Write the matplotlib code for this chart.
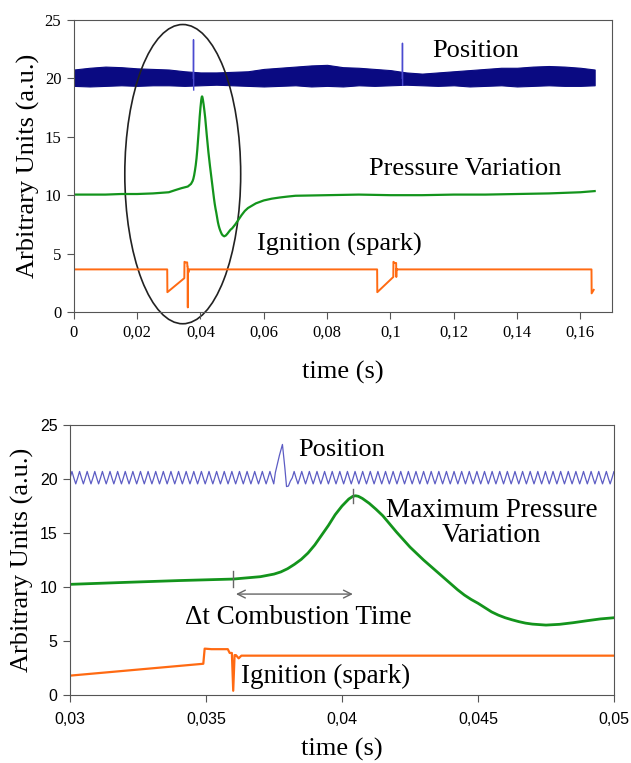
import numpy as np
import matplotlib.pyplot as plt
from matplotlib.patches import Ellipse
from matplotlib.ticker import FuncFormatter

plt.rcParams['font.family'] = ['Liberation Serif', 'DejaVu Serif']

# pressure signal (shared by both panels)
press_t = [0, 0.005, 0.01, 0.015, 0.02, 0.025, 0.03, 0.032, 0.034, 0.036, 0.037,
           0.0375, 0.03775, 0.038, 0.03825, 0.0385, 0.03875, 0.039, 0.03925, 0.0395,
           0.03975, 0.040, 0.04025, 0.0404, 0.0405, 0.0406, 0.04075, 0.041, 0.04125,
           0.0415, 0.04175, 0.042, 0.04225, 0.0425, 0.04275, 0.043, 0.04325, 0.0435,
           0.04375, 0.044, 0.04425, 0.0445, 0.04475, 0.045, 0.04525, 0.0455, 0.04575,
           0.046, 0.04625, 0.0465, 0.04675, 0.047, 0.0475, 0.048, 0.0485, 0.049, 0.0495,
           0.050, 0.051, 0.052, 0.053, 0.054, 0.055, 0.0575, 0.06, 0.0625, 0.065,
           0.0675, 0.07, 0.08, 0.09, 0.10, 0.11, 0.12, 0.13, 0.14, 0.15, 0.16, 0.1645]
press_v = [10.05, 10.05, 10.05, 10.1, 10.1, 10.15, 10.25, 10.43, 10.6, 10.74, 10.96,
           11.2, 11.4, 11.7, 12.1, 12.56, 13.15, 13.9, 14.8, 15.7,
           16.7, 17.5, 18.15, 18.4, 18.45, 18.4, 18.2, 17.75, 17.2,
           16.6, 15.85, 15.1, 14.4, 13.7, 13.1, 12.5, 11.95, 11.4,
           10.85, 10.3, 9.75, 9.26, 8.85, 8.5, 8.1, 7.7, 7.4,
           7.16, 6.97, 6.8, 6.66, 6.57, 6.48, 6.55, 6.7, 6.88, 7.05,
           7.16, 7.5, 7.9, 8.3, 8.65, 8.9, 9.3, 9.55, 9.7, 9.8,
           9.88, 9.95, 10.0, 10.05, 10.0, 10.0, 10.05, 10.05, 10.1, 10.15, 10.25, 10.35]

# ignition (spark) signal
ign_t = [0, 0.0295, 0.02955, 0.0349, 0.03495, 0.0352, 0.0358, 0.03587, 0.03595, 0.0360,
         0.03605, 0.0361, 0.0362, 0.0363, 0.0365, 0.0958, 0.09585, 0.1009, 0.10095,
         0.1013, 0.1018, 0.10185, 0.1019, 0.1020, 0.1635, 0.16355, 0.1642]
ign_v = [3.65, 3.65, 1.7, 2.9, 4.3, 4.25, 4.25, 3.9, 3.9, 0.4,
         3.7, 3.7, 3.4, 3.65, 3.65, 3.65, 1.7, 3.0, 4.3,
         4.2, 4.2, 3.0, 3.7, 3.65, 3.65, 1.6, 1.9]

# position: envelope of the dense trace in the full record
env_t = [0, 0.005, 0.01, 0.015, 0.02, 0.025, 0.03, 0.035, 0.04, 0.045, 0.05, 0.055,
         0.06, 0.065, 0.07, 0.075, 0.08, 0.085, 0.09, 0.095, 0.1, 0.105, 0.11, 0.115,
         0.12, 0.125, 0.13, 0.135, 0.14, 0.145, 0.15, 0.155, 0.16, 0.1645]
env_hi = [20.75, 20.9, 21.0, 20.95, 20.85, 20.8, 20.75, 20.6, 20.5, 20.5, 20.55, 20.6,
          20.8, 20.9, 21.0, 21.1, 21.15, 20.95, 20.9, 20.8, 20.7, 20.5, 20.4, 20.5,
          20.6, 20.7, 20.8, 20.9, 20.9, 21.0, 21.05, 21.0, 20.9, 20.75]
env_lo = [19.35, 19.3, 19.35, 19.4, 19.35, 19.4, 19.4, 19.35, 19.4, 19.45, 19.4, 19.35,
          19.3, 19.35, 19.4, 19.3, 19.35, 19.3, 19.4, 19.35, 19.4, 19.45, 19.4, 19.35,
          19.4, 19.3, 19.35, 19.4, 19.3, 19.35, 19.4, 19.35, 19.35, 19.4]
spike1_t = [0.03775, 0.0378, 0.03785]
spike1_v = [20.0, 23.3, 19.0]
spike2_t = [0.10375, 0.1038, 0.10385]
spike2_v = [20.0, 23.0, 19.4]

# position: one oscillation cycle (quarter-period samples) in the zoomed panel
pos_cycle = [20.1, 20.7, 20.1, 19.55]
pos_step = 0.00007
pos_spike_t = [0.03755, 0.0377, 0.03781, 0.0379, 0.03796, 0.03803, 0.0381]
pos_spike_v = [20.6, 22.2, 23.2, 21.0, 19.3, 19.35, 19.8]

NAVY = '#0a0a82'
BLUE = '#5c5cc4'
GREEN = '#13941c'
ORANGE = '#ff6a12'
SPINE = '#555555'

comma = FuncFormatter(lambda v, p: ('%g' % round(v, 4)).replace('.', ','))

fig = plt.figure(figsize=(6.31, 7.63), dpi=100)
ax1 = fig.add_axes([0.117, 0.591, 0.853, 0.383])
ax2 = fig.add_axes([0.111, 0.089, 0.862, 0.354])

# ---- top panel: whole record
ax1.fill_between(env_t, env_lo, env_hi, color=NAVY, lw=0.8, edgecolor=NAVY)
ax1.plot(spike1_t, spike1_v, color='#4a4ad0', lw=1)
ax1.plot(spike2_t, spike2_v, color='#4a4ad0', lw=1)
ax1.plot(press_t, press_v, color=GREEN, lw=1.6)
ax1.plot(ign_t, ign_v, color=ORANGE, lw=1.4)
ax1.add_patch(Ellipse((0.0344, 11.8), 0.0366, 25.6, fill=False, ec='#222222',
                      lw=1.2, clip_on=False))
ax1.text(0.1268, 22.3, 'Position', fontsize=19, ha='center', va='center')
ax1.text(0.1237, 12.2, 'Pressure Variation', fontsize=19, ha='center', va='center')
ax1.text(0.0839, 5.75, 'Ignition (spark)', fontsize=19, ha='center', va='center')
ax1.set_xlim(0, 0.17)
ax1.set_ylim(0, 25)
ax1.set_xticks(np.arange(0, 0.161, 0.02))
ax1.set_yticks(range(0, 26, 5))
ax1.xaxis.set_major_formatter(comma)
ax1.tick_params(labelsize=12)
ax1.set_xlabel('time (s)', fontsize=19, labelpad=15)
ax1.set_ylabel('Arbitrary Units (a.u.)', fontsize=19, labelpad=3)

# ---- bottom panel: zoom on the combustion event
seg1 = np.arange(0.03, 0.03755, pos_step)
seg2 = np.arange(0.0381 + pos_step, 0.05 + pos_step, pos_step)
pos_t = np.concatenate([seg1, pos_spike_t, seg2])
pos_v = np.concatenate([np.resize(pos_cycle, len(seg1)), pos_spike_v,
                        np.resize(pos_cycle, len(seg2))])
ax2.plot(pos_t, pos_v, color=BLUE, lw=0.9)
ax2.plot(press_t, press_v, color=GREEN, lw=2)
ax2.plot(ign_t, ign_v, color=ORANGE, lw=1.6)
ax2.plot([0.036, 0.036], [10.0, 11.5], color='#666666', lw=1)
ax2.plot([0.0404, 0.0404], [17.8, 19.1], color='#666666', lw=1)
ax2.annotate('', xy=(0.0360, 9.35), xytext=(0.0405, 9.35),
             arrowprops=dict(arrowstyle='<->', color='#666666', lw=1,
                             mutation_scale=14))
ax2.text(0.0400, 22.7, 'Position', fontsize=19, ha='center', va='center')
ax2.text(0.0455, 15.9, 'Maximum Pressure\nVariation', fontsize=19.5, ha='center',
         va='center', linespacing=1.0)
ax2.text(0.0384, 7.2, '\u0394t Combustion Time', fontsize=19.5, ha='center', va='center')
ax2.text(0.0394, 1.7, 'Ignition (spark)', fontsize=19.5, ha='center', va='center')
ax2.set_xlim(0.03, 0.05)
ax2.set_ylim(0, 25)
ax2.set_xticks([0.03, 0.035, 0.04, 0.045, 0.05])
ax2.set_yticks(range(0, 26, 5))
ax2.xaxis.set_major_formatter(comma)
for lab in ax2.get_xticklabels() + ax2.get_yticklabels():
    lab.set_family(['Liberation Sans Narrow', 'Liberation Sans'])
    lab.set_fontsize(11.5)
ax2.set_xlabel('time (s)', fontsize=19, labelpad=8)
ax2.set_ylabel('Arbitrary Units (a.u.)', fontsize=19, labelpad=4)

for ax in (ax1, ax2):
    for s in ax.spines.values():
        s.set_color(SPINE)
    ax.tick_params(direction='out', length=5, color=SPINE, pad=4)
ax2.tick_params(axis='x', pad=7)

fig.savefig('out.png', dpi=100)
